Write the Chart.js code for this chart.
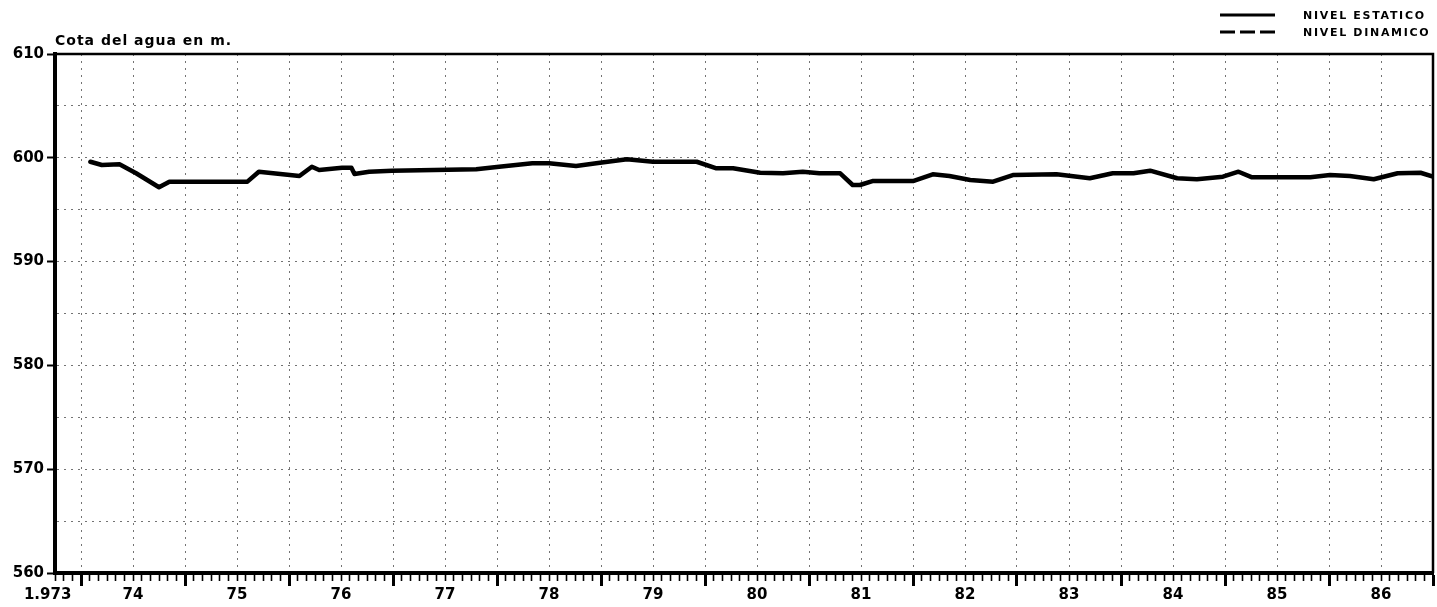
<!DOCTYPE html>
<html lang="es">
<head>
<meta charset="utf-8">
<title>Cota del agua en m.</title>
<script src="https://cdn.jsdelivr.net/npm/chart.js@4.4.1/dist/chart.umd.min.js"></script>
<style>
    html, body { margin: 0; padding: 0; background: #fff; }
    #wrap { width: 1437px; height: 607px; }
</style>
</head>
<body>
<div id="wrap"><canvas id="nivelChart" width="1437" height="607"></canvas></div>
<script>
// ----------------------------------------------------
// Datos (fecha en años decimales, cota en m)
// ----------------------------------------------------
const fechas = [
    1974.09, 1974.20, 1974.37, 1974.53, 1974.75, 1974.85, 1975.60, 1975.71,
    1976.10, 1976.22, 1976.29, 1976.51, 1976.60, 1976.63, 1976.77, 1976.99,
    1977.80, 1978.02, 1978.34, 1978.50, 1978.76, 1978.99, 1979.25, 1979.50,
    1979.92, 1980.11, 1980.27, 1980.53, 1980.75, 1980.94, 1981.10, 1981.30,
    1981.42, 1981.49, 1981.61, 1982.00, 1982.19, 1982.35, 1982.55, 1982.77,
    1982.96, 1983.38, 1983.70, 1983.92, 1984.12, 1984.28, 1984.54, 1984.73,
    1984.98, 1985.13, 1985.26, 1985.82, 1986.01, 1986.20, 1986.43, 1986.66,
    1986.88, 1987.00
];
const cotaEstatico = [
    599.62, 599.31, 599.37, 598.51, 597.16, 597.70, 597.70, 598.66,
    598.25, 599.14, 598.82, 599.05, 599.05, 598.44, 598.66, 598.76,
    598.89, 599.14, 599.47, 599.47, 599.21, 599.53, 599.86, 599.62,
    599.62, 598.99, 598.99, 598.56, 598.51, 598.66, 598.51, 598.51,
    597.38, 597.38, 597.76, 597.76, 598.41, 598.25, 597.86, 597.70,
    598.34, 598.41, 598.03, 598.51, 598.51, 598.76, 598.03, 597.93,
    598.18, 598.66, 598.12, 598.12, 598.34, 598.25, 597.93, 598.51,
    598.56, 598.18
];
const cotaDinamico = []; // sin medidas dinámicas en el gráfico

const etiquetasY = [560, 570, 580, 590, 600, 610];
const etiquetaInicio = '1.973';
const anios = ['74', '75', '76', '77', '78', '79', '80', '81', '82', '83', '84', '85', '86'];

// meses contados desde enero de 1973
const mesInicio = 9;    // octubre 1973
const mesFin = 168;     // enero 1987
const mesDe = v => Math.round((v - 1973) * 12);

Chart.defaults.font.family = '"DejaVu Sans", sans-serif';
Chart.defaults.color = '#000';

// ----------------------------------------------------
// Marco, título y leyenda
// ----------------------------------------------------
const marco = {
    id: 'marco',
    afterDraw(chart) {
        const { ctx, chartArea: a } = chart;
        ctx.save();
        ctx.strokeStyle = '#000';
        ctx.lineWidth = 2.5;
        ctx.beginPath();
        ctx.moveTo(a.left, a.top);
        ctx.lineTo(a.right, a.top);
        ctx.lineTo(a.right, a.bottom);
        ctx.stroke();

        ctx.fillStyle = '#000';
        ctx.textBaseline = 'alphabetic';
        ctx.font = 'bold 14px "DejaVu Sans"';
        ctx.letterSpacing = '1px';
        ctx.fillText('Cota del agua en m.', a.left, a.top - 9);

        // leyenda
        ctx.font = 'bold 11px "DejaVu Sans"';
        ctx.letterSpacing = '1.7px';
        chart.data.datasets.forEach((ds, i) => {
            const y = 15 + i * 17;
            ctx.lineWidth = 3;
            ctx.setLineDash(ds.borderDash || []);
            ctx.beginPath();
            ctx.moveTo(chart.width - 217, y);
            ctx.lineTo(chart.width - 162, y);
            ctx.stroke();
            ctx.setLineDash([]);
            ctx.fillText(ds.label, chart.width - 134, y + 4);
        });
        ctx.restore();
    }
};

// ----------------------------------------------------
// Gráfico
// ----------------------------------------------------
const ctx = document.getElementById('nivelChart');

new Chart(ctx, {
    type: 'line',
    data: {
        datasets: [{
            label: 'NIVEL ESTATICO',
            data: fechas.map((f, i) => ({ x: f, y: cotaEstatico[i] })),
            borderColor: '#000',
            borderWidth: 4.5,
            borderJoinStyle: 'round',
            borderCapStyle: 'round',
            pointRadius: 0,
            tension: 0
        }, {
            label: 'NIVEL DINAMICO',
            data: cotaDinamico,
            borderColor: '#000',
            borderWidth: 3,
            borderDash: [15, 5],
            pointRadius: 0
        }]
    },
    options: {
        responsive: false,
        animation: false,
        devicePixelRatio: 1,
        layout: { padding: { top: 54, right: 4, left: 0, bottom: 0 } },
        plugins: {
            legend: { display: false },
            tooltip: { enabled: false }
        },
        scales: {
            x: {
                type: 'linear',
                min: 1973 + mesInicio / 12,
                max: 1973 + mesFin / 12,
                afterBuildTicks: scale => {
                    // etiqueta "1.973" algo a la izquierda del origen, luego un tick por mes
                    const t = [{ value: 1973 + (mesInicio - 0.85) / 12 }];
                    for (let m = mesInicio; m <= mesFin; m++) t.push({ value: 1973 + m / 12 });
                    scale.ticks = t;
                },
                afterFit: scale => { scale.height = 34; },
                border: { color: '#000', width: 4, dash: [2, 5] },
                grid: {
                    color: c => {
                        const m = mesDe(c.tick.value);
                        return (m % 6 === 0 && m < mesFin) ? 'rgba(0,0,0,0.55)' : 'rgba(0,0,0,0)';
                    },
                    lineWidth: 1,
                    tickLength: 13,
                    tickColor: c => (mesDe(c.tick.value) < mesInicio ? 'rgba(0,0,0,0)' : '#000'),
                    tickWidth: c => (mesDe(c.tick.value) % 12 === 0 ? 3 : 1.6),
                    tickBorderDash: c => (mesDe(c.tick.value) % 12 === 0 ? [] : [6, 30])
                },
                ticks: {
                    autoSkip: false,
                    maxRotation: 0,
                    minRotation: 0,
                    padding: 0,
                    font: { size: 15, weight: 'bold' },
                    callback: value => {
                        const m = mesDe(value);
                        if (m < mesInicio) return etiquetaInicio;
                        if (m % 12 === 6) return anios[Math.floor(m / 12) - 1];
                        return '';
                    }
                }
            },
            y: {
                min: 560,
                max: 610,
                afterBuildTicks: scale => {
                    const t = [];
                    for (let v = 560; v <= 610; v += 5) t.push({ value: v });
                    scale.ticks = t;
                },
                afterFit: scale => { scale.width = 55; },
                border: { color: '#000', width: 4, dash: [2, 5] },
                grid: {
                    color: c => {
                        const v = c.tick.value;
                        return (v > 560 && v < 610) ? 'rgba(0,0,0,0.55)' : 'rgba(0,0,0,0)';
                    },
                    lineWidth: 1,
                    tickLength: 8,
                    tickWidth: 2,
                    tickColor: c => (etiquetasY.includes(c.tick.value) ? '#000' : 'rgba(0,0,0,0)')
                },
                ticks: {
                    padding: 3,
                    font: { size: 15, weight: 'bold' },
                    callback: value => (etiquetasY.includes(value) ? String(value) : '')
                }
            }
        }
    },
    plugins: [marco]
});
</script>
</body>
</html>
